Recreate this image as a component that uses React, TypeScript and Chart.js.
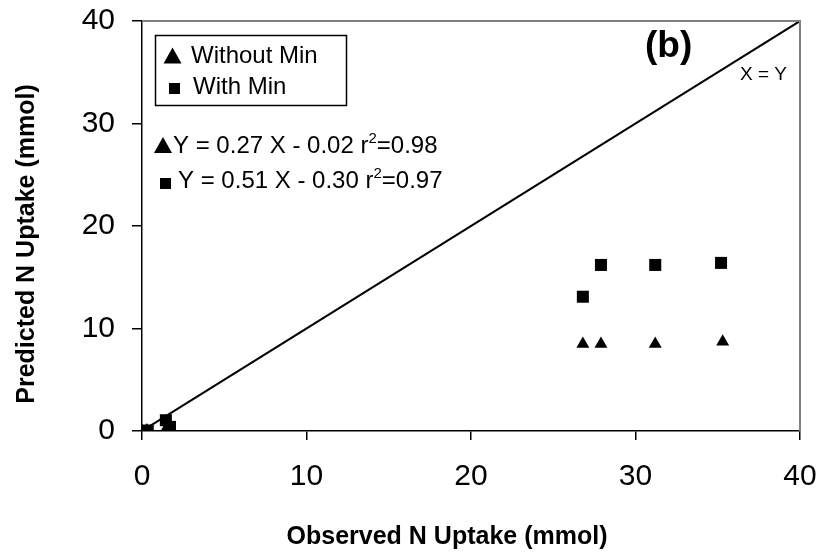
import React, { useEffect, useRef } from "react";
import { Chart, registerables } from "chart.js";
Chart.register(...registerables);

// Data
const withoutMinX = [0.3, 1.5, 1.7, 26.8, 27.9, 31.2, 35.3];
const withoutMinY = [0.05, 0.3, 0.2, 8.5, 8.5, 8.5, 8.7];
const withMinX = [0.35, 1.45, 1.7, 26.8, 27.9, 31.2, 35.2];
const withMinY = [0.05, 1.05, 0.4, 13.1, 16.2, 16.2, 16.4];
const identityX = [0, 40];
const identityY = [0, 40];
const xTicks = [0, 10, 20, 30, 40];
const yTicks = [0, 10, 20, 30, 40];
const seriesNames = ["Without Min", "With Min"];
const equationText = ["Y = 0.27 X - 0.02 r", "Y = 0.51 X - 0.30 r"];
const r2Values = ["=0.98", "=0.97"];
const panelLabel = "(b)";
const identityLabel = "X = Y";
const xTitle = "Observed N Uptake (mmol)";
const yTitle = "Predicted N Uptake (mmol)";

const FONT = "'Liberation Sans', Arial, sans-serif";

function drawTriangle(ctx: CanvasRenderingContext2D, cx: number, cy: number, w: number) {
  const h = w * 0.9;
  ctx.beginPath();
  ctx.moveTo(cx, cy - h / 2);
  ctx.lineTo(cx + w / 2, cy + h / 2);
  ctx.lineTo(cx - w / 2, cy + h / 2);
  ctx.closePath();
  ctx.fill();
}

const annotations = {
  id: "annotations",
  afterDraw(chart: any) {
    const ctx: CanvasRenderingContext2D = chart.ctx;
    const { left, right, top, bottom } = chart.chartArea;
    ctx.save();
    // top / right frame
    ctx.strokeStyle = "#808080";
    ctx.lineWidth = 2;
    ctx.beginPath();
    ctx.moveTo(left, top);
    ctx.lineTo(right, top);
    ctx.lineTo(right, bottom);
    ctx.stroke();

    ctx.fillStyle = "#000";
    ctx.strokeStyle = "#000";
    // legend box
    ctx.lineWidth = 1.5;
    ctx.strokeRect(155.5, 35.5, 191, 70);
    ctx.font = `24px ${FONT}`;
    ctx.textBaseline = "alphabetic";
    ctx.textAlign = "left";
    drawTriangle(ctx, 172.5, 55.5, 18);
    ctx.fillText(seriesNames[0], 191, 63);
    ctx.fillRect(169, 83, 11, 11);
    ctx.fillText(seriesNames[1], 193, 94);

    // equations
    const eqs = [
      { x: 173, y: 153, marker: "tri" },
      { x: 178, y: 188, marker: "sq" },
    ];
    eqs.forEach((e, i) => {
      if (e.marker === "tri") drawTriangle(ctx, 163, 145, 18);
      else ctx.fillRect(160, 178, 11, 11);
      ctx.font = `24px ${FONT}`;
      ctx.fillText(equationText[i], e.x, e.y);
      const w = ctx.measureText(equationText[i]).width;
      ctx.font = `15px ${FONT}`;
      ctx.fillText("2", e.x + w, e.y - 10);
      const w2 = ctx.measureText("2").width;
      ctx.font = `24px ${FONT}`;
      ctx.fillText(r2Values[i], e.x + w + w2, e.y);
    });

    // panel label
    ctx.font = `bold 37px ${FONT}`;
    ctx.fillText(panelLabel, 645, 57);
    ctx.font = `19px ${FONT}`;
    ctx.fillText(identityLabel, 740, 80);

    // axis titles
    ctx.font = `bold 25px ${FONT}`;
    ctx.textAlign = "center";
    ctx.fillText(xTitle, 447, 544);
    ctx.translate(34, 244);
    ctx.rotate(-Math.PI / 2);
    ctx.fillText(yTitle, 0, 0);
    ctx.restore();
  },
};

export default function App() {
  const ref = useRef<HTMLCanvasElement>(null);
  useEffect(() => {
    const canvas = ref.current!;
    const chart = new Chart(canvas, {
      type: "scatter",
      data: {
        datasets: [
          {
            label: "X = Y",
            type: "line",
            data: identityX.map((x, i) => ({ x, y: identityY[i] })),
            borderColor: "#000",
            borderWidth: 2,
            pointRadius: 0,
            fill: false,
          } as any,
          {
            label: seriesNames[0],
            data: withoutMinX.map((x, i) => ({ x, y: withoutMinY[i] })),
            pointStyle: "triangle",
            pointRadius: 7.5,
            backgroundColor: "#000",
            borderColor: "#000",
            borderWidth: 0,
          },
          {
            label: seriesNames[1],
            data: withMinX.map((x, i) => ({ x, y: withMinY[i] })),
            pointStyle: "rect",
            pointRadius: 8.5,
            backgroundColor: "#000",
            borderColor: "#000",
            borderWidth: 0,
          },
        ],
      },
      options: {
        animation: false,
        responsive: true,
        maintainAspectRatio: false,
        devicePixelRatio: 1,
        layout: { padding: { left: 0, right: 20, top: 21, bottom: 0 } },
        plugins: { legend: { display: false }, tooltip: { enabled: false } },
        scales: {
          x: {
            type: "linear",
            min: 0,
            max: 40,
            afterBuildTicks: (s: any) => {
              s.ticks = xTicks.map((v) => ({ value: v }));
            },
            afterFit: (s: any) => {
              s.height = 123;
              s.paddingLeft = 0;
              s.paddingRight = 0;
            },
            ticks: { font: { size: 30, family: FONT }, color: "#000", padding: 19 },
            grid: { drawOnChartArea: false, drawTicks: true, tickLength: 9, color: "#000", lineWidth: 1.5 },
            border: { color: "#000", width: 1.5 },
          },
          y: {
            type: "linear",
            min: 0,
            max: 40,
            afterBuildTicks: (s: any) => {
              s.ticks = yTicks.map((v) => ({ value: v }));
            },
            afterFit: (s: any) => {
              s.width = 142;
              s.paddingTop = 0;
              s.paddingBottom = 0;
            },
            ticks: { font: { size: 30, family: FONT }, color: "#000", padding: 17 },
            grid: { drawOnChartArea: false, drawTicks: true, tickLength: 10, color: "#000", lineWidth: 1.5 },
            border: { color: "#000", width: 1.5 },
          },
        },
      },
      plugins: [annotations],
    });
    return () => chart.destroy();
  }, []);
  return (
    <div style={{ position: "fixed", left: 0, top: 0, width: 820, height: 554, background: "#fff" }}>
      <canvas ref={ref} />
    </div>
  );
}
